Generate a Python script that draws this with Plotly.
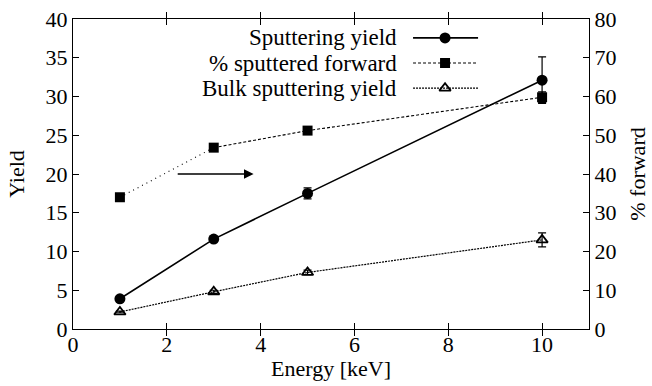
import plotly.graph_objects as go

energy = [1, 3, 5, 10]
sputter_yield = [3.9, 11.6, 17.5, 32.1]
sputter_err = [0.2, 0.3, 0.7, 3.0]
pct_forward = [34.0, 46.8, 51.2, 59.8]
pct_forward_err = [0.5, 0.5, 0.5, 1.4]
bulk_yield = [2.2, 4.8, 7.3, 11.5]
bulk_err = [0.1, 0.2, 0.3, 0.9]

legend_names = ["Sputtering yield", "% sputtered forward", "Bulk sputtering yield"]

FONT = "Liberation Serif"
fig = go.Figure()

fig.add_trace(go.Scatter(
    x=energy, y=sputter_yield, mode="lines+markers",
    line=dict(color="black", width=1.6),
    marker=dict(symbol="circle", size=11, color="black"),
    error_y=dict(type="data", array=sputter_err, color="black", thickness=1.2, width=4),
    showlegend=False))

fig.add_trace(go.Scatter(
    x=energy[:2], y=pct_forward[:2], mode="lines", yaxis="y2",
    line=dict(color="black", width=1.1, dash="1px,4px"), showlegend=False))
fig.add_trace(go.Scatter(
    x=energy[1:], y=pct_forward[1:], mode="lines", yaxis="y2",
    line=dict(color="black", width=1.1, dash="3px,2px"), showlegend=False))
fig.add_trace(go.Scatter(
    x=energy, y=pct_forward, mode="markers", yaxis="y2",
    marker=dict(symbol="square", size=10, color="black"),
    error_y=dict(type="data", array=pct_forward_err, color="black", thickness=1.2, width=4),
    showlegend=False))

fig.add_trace(go.Scatter(
    x=energy, y=bulk_yield, mode="lines+markers",
    line=dict(color="black", width=1.2, dash="2px,1px"),
    marker=dict(symbol="triangle-up-open", size=10, color="black", line=dict(width=1.8)),
    error_y=dict(type="data", array=bulk_err, color="black", thickness=1.2, width=4),
    showlegend=False))

leg_y = [0.939, 0.858, 0.777]
leg_x0, leg_xm, leg_x1 = 0.659, 0.721, 0.785
leg_styles = [
    dict(line=dict(color="black", width=1.6), marker=dict(symbol="circle", size=11, color="black")),
    dict(line=dict(color="black", width=1.1, dash="3px,2px"), marker=dict(symbol="square", size=10, color="black")),
    dict(line=dict(color="black", width=1.2, dash="2px,1px"),
         marker=dict(symbol="triangle-up-open", size=10, color="black", line=dict(width=1.8))),
]
for yy, st, name in zip(leg_y, leg_styles, legend_names):
    fig.add_trace(go.Scatter(x=[leg_x0, leg_x1], y=[yy, yy], mode="lines", line=st["line"],
                             xaxis="x3", yaxis="y3", showlegend=False, hoverinfo="skip"))
    fig.add_trace(go.Scatter(x=[leg_xm], y=[yy], mode="markers", marker=st["marker"],
                             xaxis="x3", yaxis="y3", showlegend=False, hoverinfo="skip"))
    fig.add_annotation(x=0.632, y=yy, xref="paper", yref="paper", text=name, showarrow=False,
                       xanchor="right", yanchor="middle", font=dict(family=FONT, size=23, color="black"))

fig.add_annotation(x=3.85, y=20, ax=2.2, ay=20, xref="x", yref="y", axref="x", ayref="y",
                   text="", showarrow=True, arrowhead=2, arrowsize=1.2, arrowwidth=1.6, arrowcolor="black")

axis_font = dict(family=FONT, size=22, color="black")
fig.update_layout(
    width=652, height=386,
    margin=dict(l=73, r=63, t=19, b=57, autoexpand=False),
    paper_bgcolor="white", plot_bgcolor="white",
    font=dict(family=FONT, size=22, color="black"),
    xaxis=dict(range=[0, 11], tickvals=[0, 2, 4, 6, 8, 10], ticks="inside", ticklen=6,
               tickcolor="black", showline=True, linecolor="black", linewidth=1.2, mirror="allticks",
               showgrid=False, zeroline=False, tickfont=axis_font, automargin=False,
               ticklabelstandoff=-5,
               title=dict(text="Energy [keV]", font=axis_font, standoff=2)),
    yaxis=dict(range=[0, 40], tickvals=list(range(0, 41, 5)), ticks="inside", ticklen=6,
               tickcolor="black", showline=True, linecolor="black", linewidth=1.2,
               showgrid=False, zeroline=False, tickfont=axis_font, automargin=False,
               title=dict(text="Yield", font=axis_font, standoff=14)),
    yaxis2=dict(range=[0, 80], tickvals=list(range(0, 81, 10)), ticks="inside", ticklen=6,
                tickcolor="black", showline=True, linecolor="black", linewidth=1.2,
                overlaying="y", side="right", showgrid=False, zeroline=False, tickfont=axis_font,
                automargin=False, title=dict(text="% forward", font=axis_font, standoff=14)),
    xaxis3=dict(range=[0, 1], overlaying="x", visible=False, fixedrange=True),
    yaxis3=dict(range=[0, 1], overlaying="y", visible=False, fixedrange=True),
)

fig.write_html("out.html", config={"displayModeBar": False},
               post_script="document.body.style.margin='0px';")
